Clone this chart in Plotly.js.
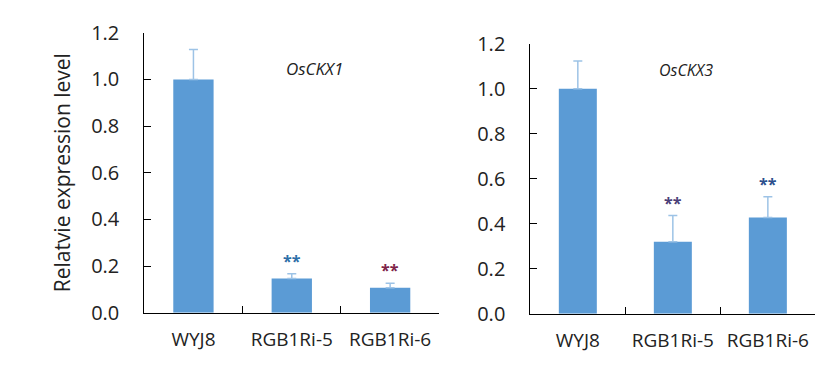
<!DOCTYPE html>
<html><head><meta charset="utf-8">
<script src="https://cdn.plot.ly/plotly-3.0.1.min.js"></script>
<style>body{margin:0;padding:0;background:#fff}#chart{width:832px;height:368px}</style>
</head><body><div id="chart"></div>
<script>
const categories = ["WYJ8", "RGB1Ri-5", "RGB1Ri-6"];
const ckx1Values = [1.0, 0.147, 0.107];
const ckx1Errors = [0.128, 0.02, 0.019];
const ckx3Values = [1.0, 0.32, 0.428];
const ckx3Errors = [0.123, 0.116, 0.092];
const ckx1Stars = ["", "**", "**"];
const ckx3Stars = ["", "**", "**"];
const ckx1StarColors = ["", "#2E6FA8", "#7E2348"];
const ckx3StarColors = ["", "#4B3F78", "#2C4F8C"];
const geneLabels = ["OsCKX1", "OsCKX3"];
const yTitle = "Relatvie expression level";

const FONT = "Open Sans, Liberation Sans, sans-serif";
const barColor = "#5B9BD5";
const errColor = "#9DC3E6";

function barTrace(vals, errs, xa, ya) {
  return {
    type: "bar", x: categories, y: vals, xaxis: xa, yaxis: ya,
    marker: {color: barColor}, width: 0.41,
    error_y: {type: "data", array: errs, arrayminus: errs.map(() => 0), symmetric: false,
      color: errColor, thickness: 1.5, width: 4.5},
    hoverinfo: "skip"
  };
}

const annotations = [];
function addStars(vals, errs, stars, colors, xa, ya) {
  categories.forEach((c, i) => {
    if (!stars[i]) return;
    annotations.push({x: c, y: vals[i] + errs[i], xref: xa, yref: ya, text: "<b>" + stars[i] + "</b>",
      showarrow: false, yanchor: "bottom", yshift: 0, font: {family: FONT, size: 16, color: colors[i]}});
  });
}
addStars(ckx1Values, ckx1Errors, ckx1Stars, ckx1StarColors, "x", "y");
addStars(ckx3Values, ckx3Errors, ckx3Stars, ckx3StarColors, "x2", "y2");
annotations.push({x: 1.236, y: 1.045, xref: "x", yref: "y", text: "<i>" + geneLabels[0] + "</i>",
  showarrow: false, font: {family: FONT, size: 17, color: "#222"}});
annotations.push({x: 1.136, y: 1.084, xref: "x2", yref: "y2", text: "<i>" + geneLabels[1] + "</i>",
  showarrow: false, font: {family: FONT, size: 16, color: "#222"}});

const xCommon = {type: "category", showline: true, linecolor: "#000", linewidth: 1, ticks: "inside",
  tickson: "boundaries", ticklen: 7, tickcolor: "#000", showgrid: false, zeroline: false,
  tickfont: {family: FONT, size: 19, color: "#222"}, ticklabelstandoff: 10, fixedrange: true};
const yCommon = {range: [0, 1.2], dtick: 0.2, tickformat: ".1f", showline: true, linecolor: "#000", linewidth: 1,
  ticks: "inside", ticklen: 7, tickcolor: "#000", showgrid: false, zeroline: false,
  tickfont: {family: FONT, size: 20, color: "#222"}, ticklabelstandoff: 20, fixedrange: true};

const layout = {
  width: 832, height: 368, margin: {l: 0, r: 0, t: 0, b: 0},
  paper_bgcolor: "#fff", plot_bgcolor: "#fff", showlegend: false, bargap: 0.59,
  xaxis: Object.assign({}, xCommon, {domain: [0.1734, 0.528], anchor: "y"}),
  yaxis: Object.assign({}, yCommon, {domain: [0.1503, 0.911], anchor: "x",
    title: {text: yTitle, font: {family: FONT, size: 21, color: "#222"}, standoff: 14}}),
  xaxis2: Object.assign({}, xCommon, {domain: [0.6374, 0.98], anchor: "y2"}),
  yaxis2: Object.assign({}, yCommon, {domain: [0.1476, 0.8813], anchor: "x2"}),
  annotations: annotations
};

Plotly.newPlot("chart", [
  barTrace(ckx1Values, ckx1Errors, "x", "y"),
  Object.assign(barTrace(ckx3Values, ckx3Errors, "x2", "y2"), {width: 0.40})
], layout, {staticPlot: true});
</script></body></html>
